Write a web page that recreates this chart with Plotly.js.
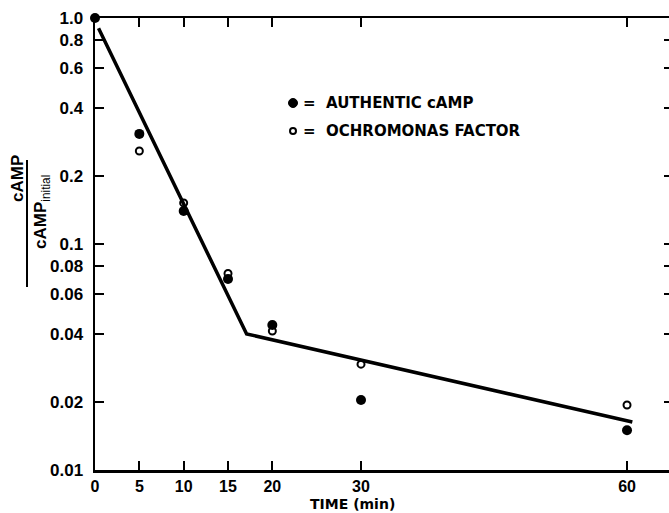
<!DOCTYPE html>
<html>
<head>
<meta charset="utf-8">
<script src="https://cdn.plot.ly/plotly-3.0.1.min.js"></script>
<style>html,body{margin:0;padding:0;overflow:hidden;background:#fff;}</style>
</head>
<body>
<div id="chart"></div>
<script>
// Data
const timeMin = [0, 5, 10, 15, 20, 30, 60];
const authenticX = [0, 5, 10, 15, 20, 30, 60];
const authenticY = [1.0, 0.307, 0.140, 0.070, 0.0438, 0.0204, 0.0150];
const ochroX = [5, 10, 15, 20, 30, 60];
const ochroY = [0.258, 0.152, 0.074, 0.0412, 0.0294, 0.0194];
const fitX = [0.4, 17.1, 60.6];
const fitY = [0.90, 0.0400, 0.0163];
const yTickVals = [0.01, 0.02, 0.04, 0.06, 0.08, 0.1, 0.2, 0.4, 0.6, 0.8, 1.0];
const yTickText = ["0.01", "0.02", "0.04", "0.06", "0.08", "0.1", "0.2", "0.4", "0.6", "0.8", "1.0"];
const xTickText = ["0", "5", "10", "15", "20", "30", "60"];

const FONT = "Liberation Sans, Arial, sans-serif";
const FONT2 = "DejaVu Sans, sans-serif";
const W = 680, H = 513, L = 95, R = 7, T = 18, B = 43;
const pw = W - L - R, ph = H - T - B;
const px = v => (v - L) / pw;
const py = v => (H - B - v) / ph;

const traces = [
  {x: fitX, y: fitY, mode: 'lines', line: {color: '#000', width: 3.5}, hoverinfo: 'skip', showlegend: false},
  {x: authenticX, y: authenticY, mode: 'markers', name: 'AUTHENTIC cAMP',
   marker: {symbol: 'circle', size: 10, color: '#000'}, cliponaxis: false, showlegend: false},
  {x: ochroX, y: ochroY, mode: 'markers', name: 'OCHROMONAS FACTOR',
   marker: {symbol: 'circle-open', size: 7, color: '#000', line: {width: 2, color: '#000'}}, cliponaxis: false, showlegend: false}
];

const yTickFont = {family: FONT, size: 17, color: '#000', weight: 'bold'};
const xTickFont = {family: FONT, size: 16, color: '#000', weight: 'bold'};

const layout = {
  width: W, height: H,
  margin: {l: L, r: R, t: T, b: B, pad: 0},
  paper_bgcolor: '#fff', plot_bgcolor: '#fff',
  showlegend: false,
  xaxis: {
    range: [0, (W - R - L) / 8.867],
    tickvals: timeMin, ticktext: xTickText,
    ticks: 'inside', ticklen: 9, tickwidth: 2, tickcolor: '#000',
    showline: true, linewidth: 2.5, linecolor: '#000', mirror: 'ticks',
    showgrid: false, zeroline: false, tickfont: xTickFont
  },
  yaxis: {
    type: 'log', range: [-2, 0],
    tickvals: yTickVals, ticktext: yTickText,
    ticks: 'inside', ticklen: 9, tickwidth: 2, tickcolor: '#000',
    showline: true, linewidth: 2.5, linecolor: '#000', mirror: 'ticks',
    showgrid: false, zeroline: false, tickfont: yTickFont, ticklabelstandoff: 6
  },
  shapes: [
    {type: 'line', xref: 'paper', yref: 'paper', x0: px(27), x1: px(27), y0: py(160), y1: py(287),
     line: {color: '#000', width: 2}},
    {type: 'circle', xref: 'paper', yref: 'paper', xsizemode: 'pixel', ysizemode: 'pixel',
     xanchor: px(293), yanchor: py(103), x0: -4.5, x1: 4.5, y0: -4.5, y1: 4.5,
     fillcolor: '#000', line: {color: '#000', width: 1}},
    {type: 'circle', xref: 'paper', yref: 'paper', xsizemode: 'pixel', ysizemode: 'pixel',
     xanchor: px(293), yanchor: py(131), x0: -3, x1: 3, y0: -3, y1: 3,
     line: {color: '#000', width: 2}}
  ],
  annotations: [
    {xref: 'paper', yref: 'paper', x: px(301), y: py(103), xanchor: 'left', yanchor: 'middle',
     text: '=  AUTHENTIC cAMP', showarrow: false, font: {family: FONT2, size: 15, color: '#000', weight: 'bold'}},
    {xref: 'paper', yref: 'paper', x: px(301), y: py(131), xanchor: 'left', yanchor: 'middle',
     text: '=  OCHROMONAS FACTOR', showarrow: false, font: {family: FONT2, size: 15, color: '#000', weight: 'bold'}},
    {xref: 'paper', yref: 'paper', x: px(352), y: py(504), xanchor: 'center', yanchor: 'middle',
     text: 'TIME (min)', showarrow: false, font: {family: FONT2, size: 14, color: '#000', weight: 'bold'}},
    {xref: 'paper', yref: 'paper', x: px(17), y: py(178), xanchor: 'center', yanchor: 'middle', textangle: -90,
     text: '<b>cAMP</b>', showarrow: false, font: {family: FONT, size: 17, color: '#000'}},
    {xref: 'paper', yref: 'paper', x: px(42), y: py(212), xanchor: 'center', yanchor: 'middle', textangle: -90,
     text: '<b>cAMP</b><sub>initial</sub>', showarrow: false, font: {family: FONT, size: 17, color: '#000'}}
  ]
};

Plotly.newPlot('chart', traces, layout, {displayModeBar: false, staticPlot: true});
</script>
</body>
</html>
